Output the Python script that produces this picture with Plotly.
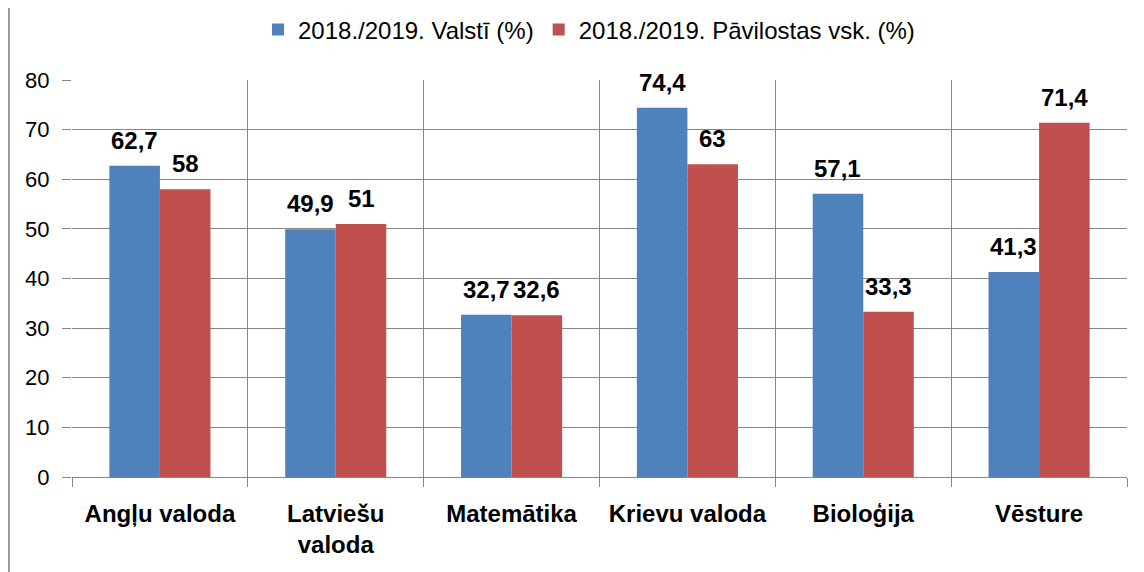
import plotly.graph_objects as go

categories = ["Angļu valoda", "Latviešu<br>valoda", "Matemātika", "Krievu valoda", "Bioloģija", "Vēsture"]
series_names = ["2018./2019. Valstī (%)", "2018./2019. Pāvilostas vsk. (%)"]
valsti = [62.7, 49.9, 32.7, 74.4, 57.1, 41.3]
pavilosta = [58, 51, 32.6, 63, 33.3, 71.4]
y_ticks = [0, 10, 20, 30, 40, 50, 60, 70, 80]

colors = ["#4F81BD", "#C0504D"]
W, H = 1144, 572
# page has an 8px body margin; margins chosen so the plot lands at page x 72..1127, y 80..477
margin = dict(l=64, r=25, t=72, b=103)
bargap = 0.425
font_family = "Liberation Sans, Arial, sans-serif"

def fmt(v):
    return f"{v:g}".replace(".", ",")

fig = go.Figure()
for name, vals, col in zip(series_names, [valsti, pavilosta], colors):
    fig.add_trace(go.Bar(x=categories, y=vals, name=name, marker=dict(color=col, line=dict(width=0))))

plot_w = W - margin["l"] - margin["r"]
plot_h = H - margin["t"] - margin["b"]
cat_w = plot_w / len(categories)
bar_w = cat_w * (1 - bargap) / 2
annotations = []
for si, vals in enumerate([valsti, pavilosta]):
    shift = (si - 0.5) * bar_w
    for c, v in zip(categories, vals):
        annotations.append(dict(
            x=c, y=v, xref="x", yref="y", text="<b>" + fmt(v) + "</b>",
            showarrow=False, xshift=shift, yshift=10, yanchor="bottom",
            font=dict(family=font_family, size=24, color="#000000")))

fig.update_layout(
    width=W, height=H,
    margin=dict(margin, autoexpand=False),
    paper_bgcolor="white", plot_bgcolor="white",
    barmode="group", bargap=bargap, bargroupgap=0,
    font=dict(family=font_family, color="#000000"),
    legend=dict(orientation="h", x=(581 - margin["l"]) / plot_w, xanchor="center",
                y=1 + (margin["t"] - 22) / plot_h, yanchor="middle",
                font=dict(size=24, family=font_family), itemwidth=30,
                traceorder="normal"),
    annotations=annotations,
    shapes=[dict(type="line", xref="paper", yref="paper",
                 x0=(1 - margin["l"]) / plot_w, x1=(1 - margin["l"]) / plot_w,
                 y0=-1, y1=2, line=dict(color="#9a9a9a", width=2))],
    xaxis=dict(type="category", tickson="boundaries", ticks="outside", ticklen=9,
               tickcolor="#868686", showgrid=True, gridcolor="#868686", gridwidth=1,
               showline=False, automargin=False,
               tickfont=dict(size=24, family=font_family, color="#000000", weight="bold"),
               ticklabelstandoff=20),
    yaxis=dict(range=[0, 80], tickvals=y_ticks, ticks="outside", ticklen=9,
               tickcolor="#868686", showgrid=True, gridcolor="#868686", gridwidth=1,
               zeroline=True, zerolinecolor="#868686", zerolinewidth=1,
               showline=False, automargin=False,
               tickfont=dict(size=22, family=font_family, color="#000000"),
               ticklabelstandoff=8),
)

fig.write_html("out.html")
